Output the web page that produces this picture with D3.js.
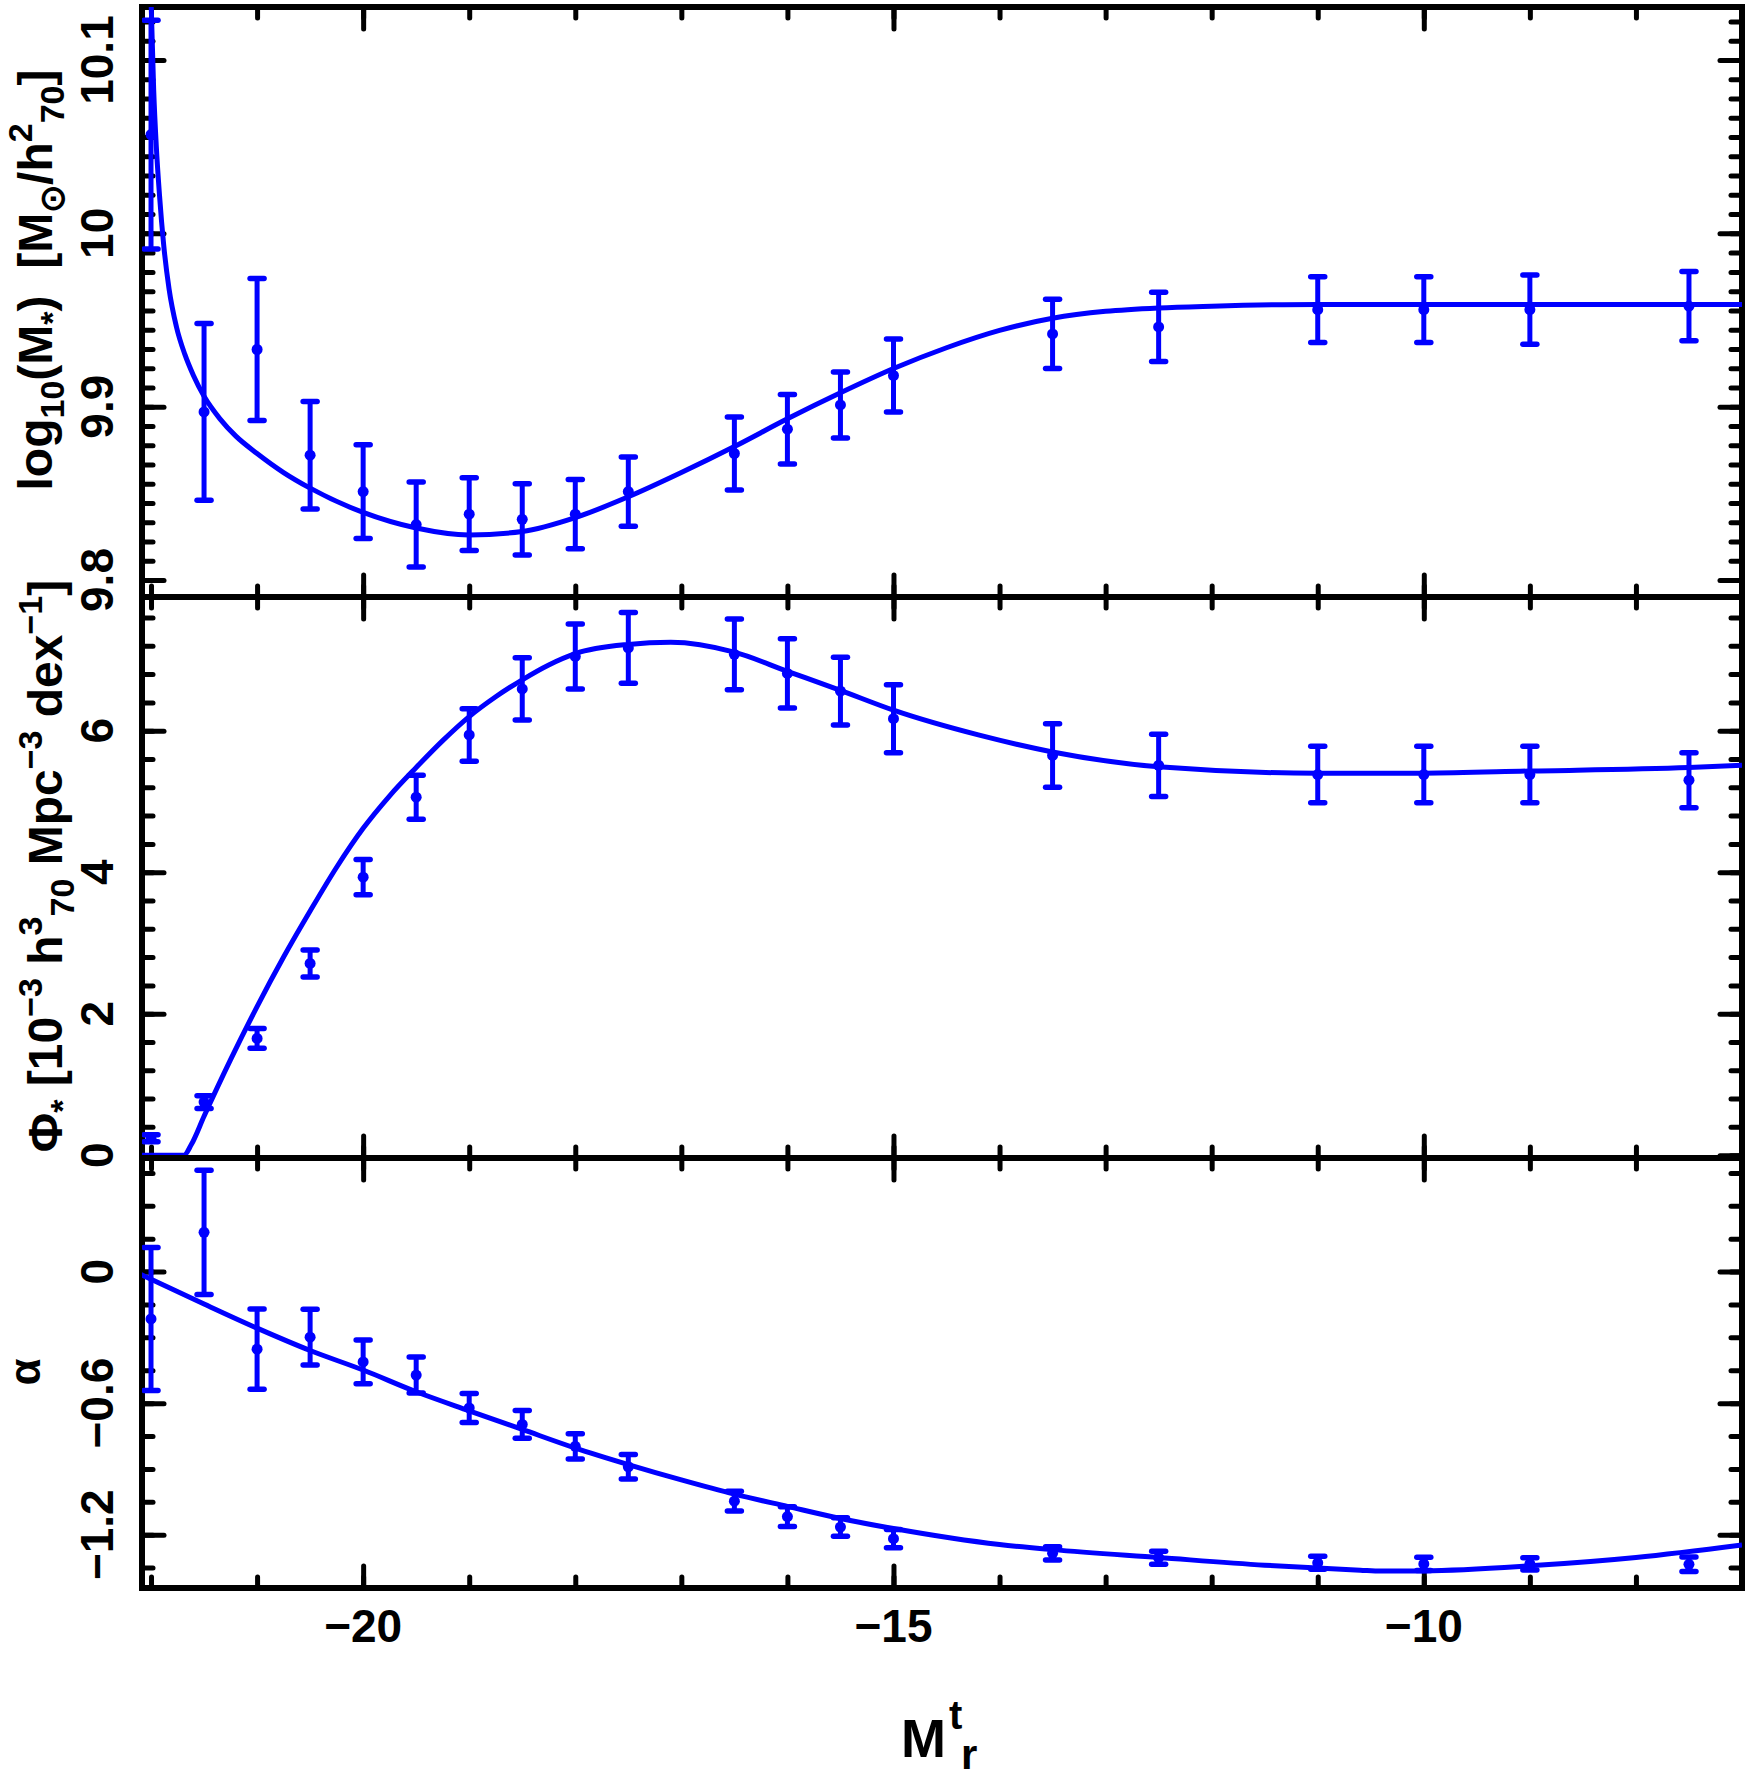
<!DOCTYPE html>
<html>
<head>
<meta charset="utf-8">
<script src="https://cdn.jsdelivr.net/npm/d3@7"></script>
<style>
  body { margin: 0; background: #fff; }
  text { font-family: "Liberation Sans", Arial, sans-serif; font-weight: bold; fill: #000; }
</style>
</head>
<body>
<svg id="chart" width="1747" height="1781"></svg>
<script>
// ---- data ----
var magBins = [-22, -21.5, -21, -20.5, -20, -19.5, -19, -18.5, -18, -17.5,
               -16.5, -16, -15.5, -15, -13.5, -12.5, -11, -10, -9, -7.5];

var logMass    = [10.057, 9.897, 9.933, 9.872, 9.851, 9.832, 9.838, 9.835, 9.838, 9.851,
                  9.873, 9.887, 9.901, 9.918, 9.942, 9.946, 9.956, 9.956, 9.956, 9.958];
var logMassErr = [0.066, 0.051, 0.041, 0.031, 0.027, 0.0245, 0.021, 0.0205, 0.020, 0.020,
                  0.021, 0.020, 0.019, 0.021, 0.020, 0.020, 0.019, 0.019, 0.020, 0.020];

var phiStar = [0.24, 0.75, 1.65, 2.71, 3.93, 5.06, 5.94, 6.59, 7.05, 7.17,
               7.08, 6.81, 6.56, 6.17, 5.65, 5.51, 5.38, 5.38, 5.38, 5.30];
var phiErr  = [0.05, 0.09, 0.14, 0.19, 0.25, 0.31, 0.37, 0.44, 0.46, 0.50,
               0.50, 0.49, 0.48, 0.48, 0.45, 0.44, 0.40, 0.40, 0.40, 0.39];

var alphaVals = [-0.216, 0.179, -0.354, -0.299, -0.412, -0.472, -0.622, -0.697, -0.797, -0.89,
                 -1.047, -1.117, -1.165, -1.218, -1.285, -1.305, -1.328, -1.333, -1.333, -1.335];
var alphaErr  = [0.326, 0.283, 0.183, 0.127, 0.10, 0.082, 0.066, 0.063, 0.058, 0.056,
                 0.045, 0.045, 0.042, 0.042, 0.03, 0.03, 0.03, 0.03, 0.028, 0.033];

// fitted curves
var fitMag1    = [-22.01, -22.0, -21.975, -21.95, -21.92, -21.88, -21.83, -21.76, -21.68, -21.6,
                  -21.5, -21.35, -21.2, -21.0, -20.75, -20.5, -20.0, -19.5, -19.0, -18.5,
                  -18.0, -17.5, -17.0, -16.5, -16.0, -15.5, -15.0, -14.5, -14.0, -13.5,
                  -13.0, -12.5, -12.0, -11.0, -10.0, -8.0, -7.0];
var fitLogMass = [10.16, 10.135, 10.083, 10.050, 10.022, 9.993, 9.968, 9.946, 9.930, 9.918,
                  9.906, 9.893, 9.883, 9.873, 9.862, 9.853, 9.839, 9.830, 9.826, 9.828,
                  9.836, 9.848, 9.862, 9.877, 9.893, 9.908, 9.922, 9.934, 9.944, 9.951,
                  9.955, 9.957, 9.958, 9.959, 9.959, 9.959, 9.959];

var fitMag2 = [-22.1, -21.69, -21.62, -21.5, -21.25, -21.0, -20.75, -20.5, -20.25, -20.0,
               -19.75, -19.5, -19.25, -19.0, -18.75, -18.5, -18.25, -18.0, -17.5, -17.1,
               -16.5, -16.0, -15.5, -15.0, -14.2, -13.5, -12.5, -11.0, -10.0, -9.0,
               -7.5, -7.0];
var fitPhi  = [0, 0, 0.15, 0.55, 1.35, 2.10, 2.80, 3.45, 4.07, 4.62,
               5.08, 5.48, 5.86, 6.20, 6.48, 6.72, 6.93, 7.09, 7.22, 7.25,
               7.11, 6.84, 6.57, 6.29, 5.94, 5.70, 5.49, 5.40, 5.40, 5.43,
               5.48, 5.51];

var fitMag3   = [-22.1, -21.5, -21.0, -20.5, -20.0, -19.5, -19.0, -18.5, -18.0, -17.5,
                 -17.0, -16.5, -16.0, -15.5, -15.0, -14.0, -13.5, -12.5, -11.5, -10.6,
                 -10.4, -10.0, -9.0, -8.0, -7.0];
var fitAlpha  = [-0.012, -0.148, -0.258, -0.36, -0.449, -0.548, -0.635, -0.72, -0.805, -0.88,
                 -0.95, -1.015, -1.071, -1.126, -1.172, -1.245, -1.268, -1.304, -1.339, -1.362,
                 -1.366, -1.365, -1.342, -1.304, -1.247];

// ticks
var xMajorTicks = [-20, -15, -10];
var xMinorTicks = d3.range(-22, -6.5, 1);
var xTickLabels = ["\u221220", "\u221215", "\u221210"];

var massMajor = [9.8, 9.9, 10.0, 10.1];
var massLabels = ["9.8", "9.9", "10", "10.1"];
var phiMajor = [0, 2, 4, 6];
var phiLabels = ["0", "2", "4", "6"];
var alphaMajor = [-1.2, -0.6, 0];
var alphaLabels = ["\u22121.2", "\u22120.6", "0"];

// ---- layout ----
var svg = d3.select("#chart");
var blue = "#0000ff";
var x = d3.scaleLinear().domain([-22.085, -7.0]).range([142, 1742]);

var panels = [
  { top: 7, bottom: 597, domain: [9.7902, 10.1306], major: massMajor, labels: massLabels,
    minor: d3.range(-1, 32).map(function (i) { return 9.8 + i * 0.1 / 9; }),
    vals: logMass, errs: logMassErr, fx: fitMag1, fy: fitLogMass },
  { top: 597, bottom: 1158, domain: [-0.04, 7.89], major: phiMajor, labels: phiLabels,
    minor: d3.range(0, 20).map(function (i) { return i * 0.4; }),
    vals: phiStar, errs: phiErr, fx: fitMag2, fy: fitPhi },
  { top: 1158, bottom: 1588, domain: [-1.443, 0.518], major: alphaMajor, labels: alphaLabels,
    minor: d3.range(-9, 4).map(function (i) { return i * 0.15; }),
    vals: alphaVals, errs: alphaErr, fx: fitMag3, fy: fitAlpha }
];

function styleTicks(g) {
  g.select(".domain").remove();
  g.selectAll(".tick line").attr("stroke", "#000").attr("stroke-width", 5).attr("stroke-linecap", "round");
  g.selectAll(".tick text").remove();
}

panels.forEach(function (p, k) {
  var y = d3.scaleLinear().domain(p.domain).range([p.bottom, p.top]);
  var inY = p.minor.filter(function (v) { return v > p.domain[0] && v < p.domain[1]; });
  var g = svg.append("g");

  g.append("clipPath").attr("id", "clip" + k)
    .append("rect").attr("x", x.range()[0]).attr("y", p.top)
    .attr("width", x.range()[1] - x.range()[0]).attr("height", p.bottom - p.top);

  // ticks, all four sides, pointing in
  g.append("g").attr("transform", "translate(0," + p.bottom + ")")
    .call(d3.axisBottom(x).tickValues(xMinorTicks).tickSize(-11)).call(styleTicks);
  g.append("g").attr("transform", "translate(0," + p.bottom + ")")
    .call(d3.axisBottom(x).tickValues(xMajorTicks).tickSize(-22)).call(styleTicks);
  g.append("g").attr("transform", "translate(0," + p.top + ")")
    .call(d3.axisTop(x).tickValues(xMinorTicks).tickSize(-11)).call(styleTicks);
  g.append("g").attr("transform", "translate(0," + p.top + ")")
    .call(d3.axisTop(x).tickValues(xMajorTicks).tickSize(-22)).call(styleTicks);
  g.append("g").attr("transform", "translate(" + x.range()[0] + ",0)")
    .call(d3.axisLeft(y).tickValues(inY).tickSize(-11)).call(styleTicks);
  g.append("g").attr("transform", "translate(" + x.range()[0] + ",0)")
    .call(d3.axisLeft(y).tickValues(p.major).tickSize(-22)).call(styleTicks);
  g.append("g").attr("transform", "translate(" + x.range()[1] + ",0)")
    .call(d3.axisRight(y).tickValues(inY).tickSize(-11)).call(styleTicks);
  g.append("g").attr("transform", "translate(" + x.range()[1] + ",0)")
    .call(d3.axisRight(y).tickValues(p.major).tickSize(-22)).call(styleTicks);

  // frame
  g.append("rect").attr("x", x.range()[0]).attr("y", p.top)
    .attr("width", x.range()[1] - x.range()[0]).attr("height", p.bottom - p.top)
    .attr("fill", "none").attr("stroke", "#000").attr("stroke-width", 6);

  // y tick labels, rotated
  g.selectAll(".ylab").data(p.major).enter().append("text")
    .attr("transform", function (d) { return "translate(113," + y(d) + ") rotate(-90)"; })
    .attr("text-anchor", "middle").attr("font-size", 46)
    .text(function (d, i) { return p.labels[i]; });

  var plot = g.append("g").attr("clip-path", "url(#clip" + k + ")");

  // fit curve
  var line = d3.line().x(function (d) { return x(d[0]); }).y(function (d) { return y(d[1]); })
    .curve(d3.curveMonotoneX);
  plot.append("path").datum(p.fx.map(function (v, i) { return [v, p.fy[i]]; }))
    .attr("d", line).attr("fill", "none").attr("stroke", blue).attr("stroke-width", 5);

  // error bars + points
  var pts = magBins.map(function (m, i) { return { m: m, v: p.vals[i], e: p.errs[i] }; });
  var eb = plot.selectAll(".eb").data(pts).enter().append("g");
  eb.append("line")
    .attr("x1", function (d) { return x(d.m); }).attr("x2", function (d) { return x(d.m); })
    .attr("y1", function (d) { return y(d.v - d.e); }).attr("y2", function (d) { return y(d.v + d.e); })
    .attr("stroke", blue).attr("stroke-width", 5);
  [-1, 1].forEach(function (s) {
    eb.append("line")
      .attr("x1", function (d) { return x(d.m) - 7; }).attr("x2", function (d) { return x(d.m) + 7; })
      .attr("y1", function (d) { return y(d.v + s * d.e); }).attr("y2", function (d) { return y(d.v + s * d.e); })
      .attr("stroke", blue).attr("stroke-width", 5.5).attr("stroke-linecap", "round");
  });
  eb.append("circle")
    .attr("cx", function (d) { return x(d.m); }).attr("cy", function (d) { return y(d.v); })
    .attr("r", 5.5).attr("fill", blue);
});

// x tick labels
svg.selectAll(".xlab").data(xMajorTicks).enter().append("text")
  .attr("x", function (d) { return x(d); }).attr("y", 1642)
  .attr("text-anchor", "middle").attr("font-size", 46)
  .text(function (d, i) { return xTickLabels[i]; });

// x title
svg.append("text").attr("x", 946).attr("y", 1757).attr("text-anchor", "end")
  .attr("font-size", 54).text("M");
svg.append("text").attr("x", 949).attr("y", 1729).attr("font-size", 40).text("t");
svg.append("text").attr("x", 961).attr("y", 1769).attr("font-size", 42).text("r");

// y titles
function yTitle(tx, ty, parts) {
  var t = svg.append("text").attr("transform", "translate(" + tx + "," + ty + ") rotate(-90)")
    .attr("text-anchor", "middle").attr("font-size", 48);
  var shift = 0;
  parts.forEach(function (pt) {
    var want = pt[1] === "sub" ? 12 : pt[1] === "sup" ? -20 : 0;
    var ts = t.append("tspan").attr("dy", want - shift).text(pt[0]);
    if (pt[1]) ts.attr("font-size", 34);
    shift = want;
  });
}
yTitle(52, 280, [["log"], ["10", "sub"], ["(M"], ["*", "sub"], [")\u00a0\u00a0[M"], ["\u2299", "sub"],
                 ["/h"], ["2", "sup"], ["70", "sub"], ["]"]]);
yTitle(62, 866, [["\u03a6"], ["*", "sub"], ["\u00a0[10"], ["\u22123", "sup"], ["\u00a0h"], ["3", "sup"],
                 ["70", "sub"], ["\u00a0Mpc"], ["\u22123", "sup"], ["\u00a0dex"], ["\u22121", "sup"], ["]"]]);
svg.append("text").attr("transform", "translate(40,1372) rotate(-90)")
  .attr("text-anchor", "middle").attr("font-size", 44).text("\u03b1");
</script>
</body>
</html>
